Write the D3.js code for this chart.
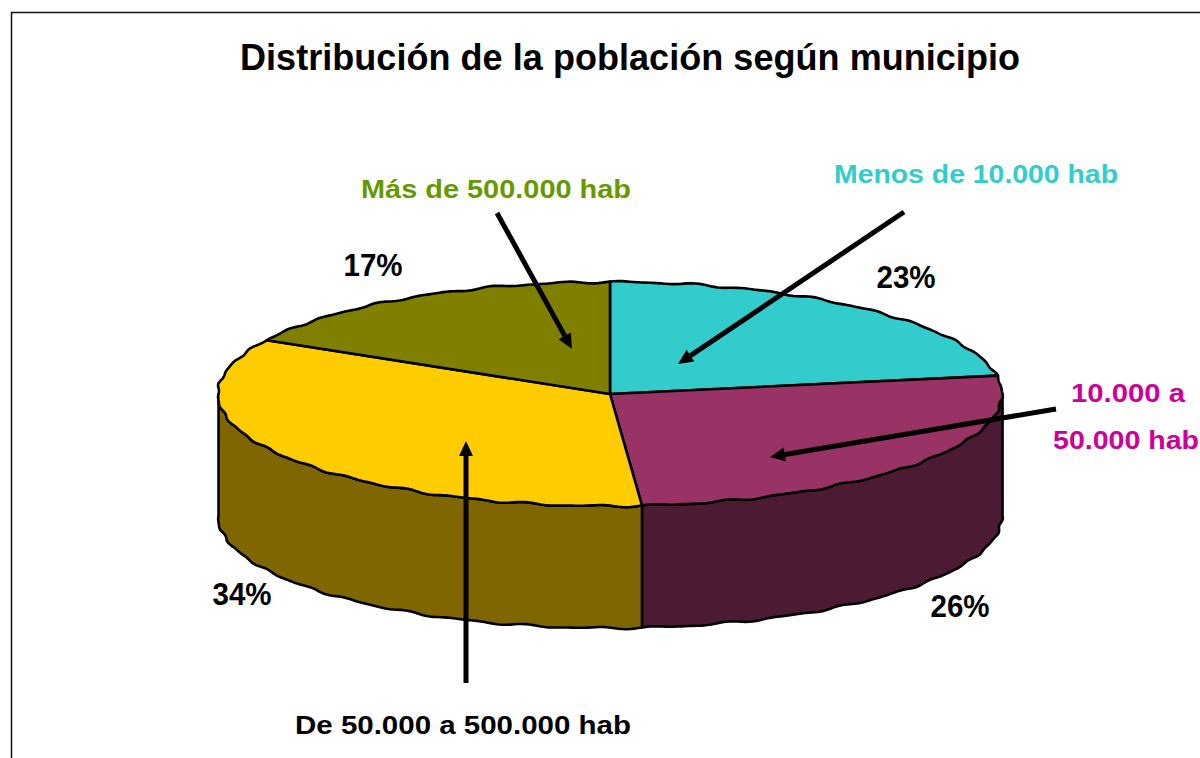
<!DOCTYPE html>
<html><head><meta charset="utf-8">
<style>html,body{margin:0;padding:0;background:#fff;overflow:hidden}svg{display:block}text{font-family:"Liberation Sans",Arial,sans-serif;font-weight:bold}</style>
<script src="https://cdn.jsdelivr.net/npm/d3@7/dist/d3.min.js"></script></head><body>
<svg id="c" width="1200" height="758"></svg>
<script>
const categories=["Menos de 10.000 hab","10.000 a 50.000 hab","De 50.000 a 500.000 hab","Más de 500.000 hab"];
const values=[22.4,26.3,34.3,17];
const percentLabels=["23%","26%","34%","17%"];
const topColors=["#33CCCC","#993366","#FFCC00","#808000"];
const sideColors=["#1a6666","#4D1A33","#806600","#404000"];
const svg=d3.select("#c");
const cx=610,cy=394,rx=392,ry=112,depth=122;
svg.append("path").attr("d","M11.5 758V12.5H1200").attr("fill","none").attr("stroke","#111").attr("stroke-width",1.5);
const arcs=d3.pie().sort(null).value(d=>d)(values);
// hand-drawn looking outline of the source picture
const wob=a=>0.8*Math.sin(a*37)+0.5*Math.sin(a*59+1);
const pt=(a,dy=0)=>{const w=wob(a);return [cx+(rx+w)*Math.sin(a),cy-(ry+w)*Math.cos(a)+dy];};
const line=d3.line();
const samples=(a0,a1,dy)=>{const n=Math.max(2,Math.ceil((a1-a0)/0.01));return d3.range(n+1).map(i=>pt(a0+(a1-a0)*i/n,dy));};
const g=svg.append("g");
arcs.forEach((d,i)=>{
  const a0=Math.max(d.startAngle,Math.PI/2),a1=Math.min(d.endAngle,Math.PI*1.5);
  if(a1<=a0)return;
  const poly=samples(a0,a1,0).concat(samples(a0,a1,depth).reverse());
  g.append("path").attr("d",line(poly)+"Z").attr("fill",sideColors[i]).attr("stroke","#000").attr("stroke-width",2.6).attr("stroke-linejoin","round");
});
arcs.forEach((d,i)=>{
  const poly=[[cx,cy]].concat(samples(d.startAngle,d.endAngle,0));
  g.append("path").attr("d",line(poly)+"Z").attr("fill",topColors[i]).attr("stroke","#000").attr("stroke-width",2.6).attr("stroke-linejoin","round");
});
svg.append("text").attr("x",630).attr("y",70).attr("text-anchor","middle").attr("font-size",36).attr("textLength",780).attr("lengthAdjust","spacing").text("Distribución de la población según municipio");
const pctPos=[[906,288],[960,617],[242,605],[373,276]];
percentLabels.forEach((t,i)=>svg.append("text").attr("x",pctPos[i][0]).attr("y",pctPos[i][1]).attr("text-anchor","middle").attr("font-size",31).attr("textLength",59).attr("lengthAdjust","spacingAndGlyphs").attr("fill","#000").text(t));
const lab=(t,x,y,c,w)=>svg.append("text").attr("x",x).attr("y",y).attr("text-anchor","middle").attr("font-size",26).attr("textLength",w).attr("lengthAdjust","spacingAndGlyphs").attr("fill",c).text(t);
lab(categories[0],976,183,"#33CCCC",284);
lab("10.000 a",1128,402,"#CC0099",114);
lab("50.000 hab",1126,449,"#CC0099",146);
lab(categories[2],463,734,"#000",336);
lab(categories[3],496,198,"#669900",270);
const arrows=[[904,212,678,364],[1056,409,770,457],[466,683,466,441],[497,213,572,349]];
arrows.forEach(([x1,y1,x2,y2])=>{
  const ang=Math.atan2(y2-y1,x2-x1),L=15,W=7;
  const bx=x2-L*Math.cos(ang),by=y2-L*Math.sin(ang);
  svg.append("line").attr("x1",x1).attr("y1",y1).attr("x2",bx).attr("y2",by).attr("stroke","#000").attr("stroke-width",5);
  svg.append("path").attr("d",line([[x2,y2],[bx-W*Math.sin(ang),by+W*Math.cos(ang)],[bx+W*Math.sin(ang),by-W*Math.cos(ang)]])+"Z").attr("fill","#000");
});
</script></body></html>
